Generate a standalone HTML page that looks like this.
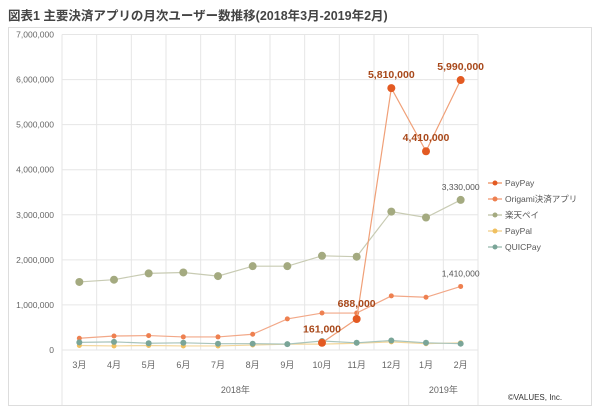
<!DOCTYPE html>
<html><head><meta charset="utf-8">
<style>
body{margin:0;background:#fff;font-family:"Liberation Sans","Noto Sans CJK JP",sans-serif;}
#wrap{position:relative;width:600px;height:413px;overflow:hidden;}
svg text{font-family:"Liberation Sans","Noto Sans CJK JP",sans-serif;}
</style></head>
<body>
<div id="wrap">
<svg id="chart" width="600" height="413">
<text x="8" y="20" font-size="12.5" font-weight="bold" fill="#444">図表1 主要決済アプリの月次ユーザー数推移(2018年3月-2019年2月)</text>
<rect x="8.5" y="27.5" width="583" height="378" fill="none" stroke="#ddd"/>
<g id="grid"></g><g id="series"></g><g id="labels"></g>
<text x="535" y="400" font-size="8" fill="#333" text-anchor="middle">©VALUES, Inc.</text>
</svg>
</div>
<script>
const categories=["3月","4月","5月","6月","7月","8月","9月","10月","11月","12月","1月","2月"];
const yTicks=[0,1000000,2000000,3000000,4000000,5000000,6000000,7000000];
const payPay=[null,null,null,null,null,null,null,161000,688000,5810000,4410000,5990000];
const origami=[260000,310000,320000,290000,290000,350000,690000,820000,820000,1200000,1170000,1410000];
const rakuten=[1510000,1560000,1700000,1720000,1640000,1860000,1860000,2090000,2070000,3070000,2940000,3330000];
const payPal=[100000,90000,100000,90000,90000,110000,130000,130000,150000,180000,140000,160000];
const quicPay=[170000,180000,150000,160000,140000,140000,130000,200000,160000,210000,160000,140000];
const payPayLabels=[null,null,null,null,null,null,null,"161,000","688,000","5,810,000","4,410,000","5,990,000"];
const years=[{label:"2018年",from:0,to:10},{label:"2019年",from:10,to:12}];

const X0=62,X1=478,Y0=350,Y1=34.5,YMAX=7000000;
const step=(X1-X0)/categories.length;
const x=i=>X0+step*(i+0.5);
const y=v=>Y0-(v/YMAX)*(Y0-Y1);
const NS="http://www.w3.org/2000/svg";
function mk(tag,attrs,parent){const e=document.createElementNS(NS,tag);for(const k in attrs)e.setAttribute(k,attrs[k]);parent.appendChild(e);return e;}
const grid=document.getElementById('grid'),ser=document.getElementById('series'),lab=document.getElementById('labels');

yTicks.forEach(v=>{
  const l=mk('line',{x1:X0,x2:X1,y1:y(v),y2:y(v),stroke:'#e6e6e6','stroke-width':1},grid);
  
  
  const t=mk('text',{x:54,y:y(v)+3,'font-size':8.5,fill:'#666','text-anchor':'end'},grid);
  t.textContent=v.toLocaleString('en-US');
  
  
});
for(let i=0;i<=categories.length;i++){
  const bottom=(i===0||i===10||i===12)?405:350;
  const l=mk('line',{x1:X0+step*i,x2:X0+step*i,y1:Y1,y2:bottom,stroke:'#e6e6e6','stroke-width':1},grid);
  
  
}
categories.forEach((c,i)=>{
  const t=mk('text',{x:x(i),y:368,'font-size':9,fill:'#666','text-anchor':'middle'},grid);
  t.textContent=c;
  
  
});
years.forEach(yr=>{
  const t=mk('text',{x:X0+step*(yr.from+yr.to)/2,y:393,'font-size':9,fill:'#666','text-anchor':'middle'},grid);
  t.textContent=yr.label;
  
  
});

const defs=[
 {name:'PayPay',data:payPay,color:'#e35a22',line:'#f0a078',r:4},
 {name:'Origami決済アプリ',data:origami,color:'#ee8050',line:'#f2a888',r:2.5},
 {name:'楽天ペイ',data:rakuten,color:'#a4aa80',line:'#c8cbb3',r:4},
 {name:'PayPal',data:payPal,color:'#f0c060',line:'#f3d69a',r:2.5},
 {name:'QUICPay',data:quicPay,color:'#7aa598',line:'#a9c4bb',r:3}
];
const order=[3,1,4,2,0];
order.forEach(k=>{
  const s=defs[k];
  const g=mk('g',{},ser);
  
  
  const pts=[];s.data.forEach((v,i)=>{if(v!==null)pts.push([x(i),y(v)]);});
  const p=mk('polyline',{points:pts.map(p=>p.join(',')).join(' '),fill:'none',stroke:s.line,'stroke-width':1.2},g);
  
  
  pts.forEach(pt=>{
    const c=mk('circle',{cx:pt[0],cy:pt[1],r:s.r,fill:s.color},g);
    
    
  });
});
const offs={7:[0,-10],8:[0,-12],9:[0,-10],10:[0,-10],11:[0,-10]};
payPayLabels.forEach((t,i)=>{
  if(!t)return;
  const o=offs[i];
  const e=mk('text',{x:x(i)+o[0],y:y(payPay[i])+o[1],'font-size':10.5,'font-weight':'bold',fill:'#a8481a','text-anchor':'middle'},lab);
  e.textContent=t;
  
  
});
[[rakuten,'3,330,000'],[origami,'1,410,000']].forEach(([d,t])=>{
  const e=mk('text',{x:x(11),y:y(d[11])-10,'font-size':8.5,fill:'#555','text-anchor':'middle'},lab);
  e.textContent=t;
  
  
});
defs.forEach((s,i)=>{
  const ly=183+i*16;
  const g=mk('g',{},lab);
  
  
  mk('line',{x1:488,x2:502,y1:ly,y2:ly,stroke:s.line,'stroke-width':1.5},g);
  mk('circle',{cx:495,cy:ly,r:2.5,fill:s.color},g);
  const t=mk('text',{x:505,y:ly+3,'font-size':8.5,fill:'#555'},g);
  t.textContent=s.name;
});
</script>
</body></html>
